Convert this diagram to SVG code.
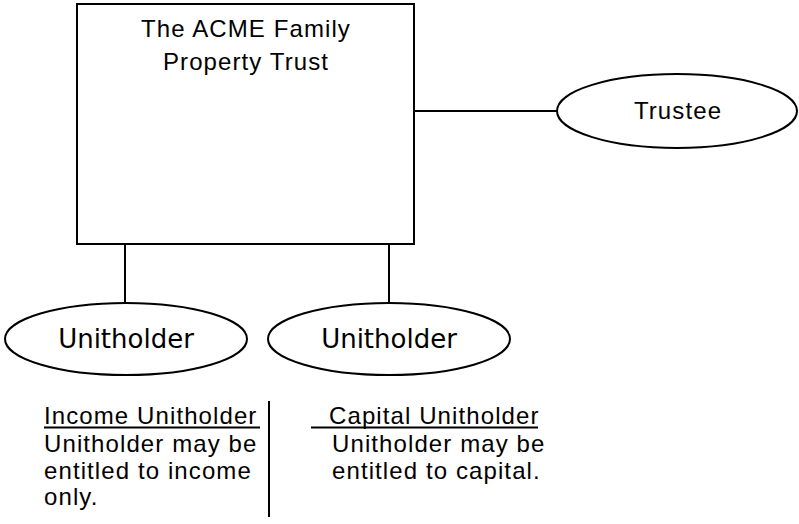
<svg xmlns="http://www.w3.org/2000/svg" width="799" height="524" viewBox="0 0 799 524">
<style>
.shape{fill:#fff;stroke:#000;stroke-width:2}
.conn line{stroke:#000;stroke-width:2}
.t{font-family:"Liberation Sans",Arial,sans-serif;font-size:24px;letter-spacing:1.1px;fill:#000}
.u{font-family:"DejaVu Sans",Verdana,sans-serif;font-size:26px;fill:#000}
</style>
<rect width="799" height="524" fill="#fff"/>
<g class="conn" id="connectors">
<line x1="414" y1="111" x2="557" y2="111"/>
<line x1="125" y1="244" x2="125" y2="303"/>
<line x1="389" y1="244" x2="389" y2="303"/>
</g>
<g id="trust">
<rect class="shape" x="77" y="4" width="337" height="240"/>
<text class="t" x="246" y="37" text-anchor="middle">The ACME Family</text>
<text class="t" x="246" y="70" text-anchor="middle">Property Trust</text>
</g>
<g id="trustee">
<ellipse class="shape" cx="677" cy="111" rx="120" ry="37"/>
<text class="t" x="678" y="119" text-anchor="middle">Trustee</text>
</g>
<g id="unitholder1">
<ellipse class="shape" cx="126" cy="339" rx="121" ry="36"/>
<text class="u" x="126" y="348" text-anchor="middle">Unitholder</text>
</g>
<g id="unitholder2">
<ellipse class="shape" cx="389" cy="339" rx="121" ry="36"/>
<text class="u" x="389" y="348" text-anchor="middle">Unitholder</text>
</g>
<g id="income-note">
<text class="t" x="44" y="424">Income Unitholder</text>
<line x1="44" y1="427.5" x2="260" y2="427.5" stroke="#000" stroke-width="2"/>
<text class="t" x="44" y="452">Unitholder may be</text>
<text class="t" x="44" y="479">entitled to income</text>
<text class="t" x="44" y="505">only.</text>
</g>
<line x1="269" y1="401" x2="269" y2="517" stroke="#000" stroke-width="2"/>
<g id="capital-note">
<text class="t" x="329" y="424">Capital Unitholder</text>
<line x1="311" y1="427.5" x2="538" y2="427.5" stroke="#000" stroke-width="2"/>
<text class="t" x="332" y="452">Unitholder may be</text>
<text class="t" x="332" y="479">entitled to capital.</text>
</g>
</svg>
